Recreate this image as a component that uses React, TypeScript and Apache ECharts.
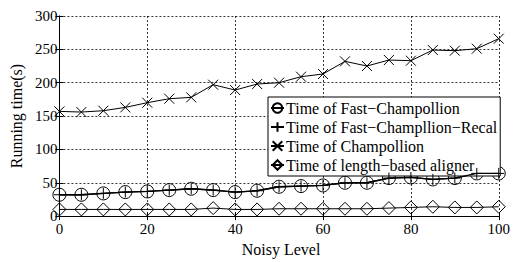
import React, { useEffect, useRef } from "react";
import * as echarts from "echarts";

const noiseLevels = [0, 5, 10, 15, 20, 25, 30, 35, 40, 45, 50, 55, 60, 65, 70, 75, 80, 85, 90, 95, 100];
const fastChampollion = [32, 32, 34, 36, 37, 39, 41, 39, 36, 38, 44, 45, 46, 50, 50, 57, 58, 55, 57, 64, 64];
const fastRecal = [32, 32, 34, 36, 37, 39, 41, 39, 36, 38, 44, 45, 46, 50, 50, 57, 58, 55, 57, 64, 64];
const champollion = [157, 156, 158, 163, 170, 176, 178, 197, 189, 198, 200, 209, 213, 232, 225, 234, 233, 249, 248, 251, 266];
const lengthBased = [10, 10, 10, 10, 10, 10, 10, 12, 10, 10, 11, 11, 11, 11, 11, 12, 13, 14, 13, 13, 14];
const seriesNames = [
  "Time of Fast\u2212Champollion",
  "Time of Fast\u2212Champllion\u2212Recal",
  "Time of Champollion",
  "Time of length\u2212based aligner",
];

const FONT = "Liberation Serif";

function pairs(ys: number[]) {
  return noiseLevels.map((x, i) => [x, ys[i]]);
}

export default function App() {
  const ref = useRef<HTMLDivElement>(null);
  useEffect(() => {
    if (!ref.current) return;
    const chart = echarts.init(ref.current, undefined, { renderer: "svg" });
    const axisLine = { show: true, lineStyle: { color: "#000", width: 1 } };
    const split = { show: true, lineStyle: { color: "#000", type: [2, 2] as any, width: 0.8 } };
    const mk = (name: string, ys: number[], symbol: string, size: number, lw: number, z: number) => ({
      name,
      type: "line",
      data: pairs(ys),
      symbol,
      symbolSize: size,
      showAllSymbol: true,
      z,
      lineStyle: { color: "#000", width: lw },
      itemStyle: { color: "rgba(0,0,0,0)", borderColor: "#000", borderWidth: 1 },
      emphasis: { disabled: true },
    });
    chart.setOption({
      animation: false,
      backgroundColor: "#fff",
      textStyle: { fontFamily: FONT },
      grid: { left: 56, right: 14, top: 16, bottom: 30, containLabel: false },
      xAxis: [
        {
          type: "value",
          min: 0,
          max: 100,
          interval: 20,
          name: "Noisy Level",
          nameLocation: "middle",
          nameGap: 19,
          nameTextStyle: { fontFamily: FONT, fontSize: 16, color: "#000", padding: [0, 0, 0, 4] },
          axisLine,
          axisTick: { show: true, inside: true, length: 4, lineStyle: { color: "#000" } },
          axisLabel: { fontFamily: FONT, fontSize: 15, color: "#000", margin: 5 },
          splitLine: split,
        },
        {
          type: "value",
          position: "top",
          min: 0,
          max: 100,
          interval: 20,
          axisLine,
          axisTick: { show: true, inside: true, length: 4, lineStyle: { color: "#000" } },
          axisLabel: { show: false },
          splitLine: { show: false },
        },
      ],
      yAxis: [
        {
          type: "value",
          min: 0,
          max: 300,
          interval: 50,
          name: "Running time(s)",
          nameLocation: "middle",
          nameGap: 31,
          nameTextStyle: { fontFamily: FONT, fontSize: 16, color: "#000" },
          axisLine,
          axisTick: { show: true, inside: true, length: 4, lineStyle: { color: "#000" } },
          axisLabel: { fontFamily: FONT, fontSize: 15, color: "#000", margin: 2 },
          splitLine: split,
        },
        {
          type: "value",
          position: "right",
          min: 0,
          max: 300,
          interval: 50,
          axisLine,
          axisTick: { show: true, inside: true, length: 4, lineStyle: { color: "#000" } },
          axisLabel: { show: false },
          splitLine: { show: false },
        },
      ],
      legend: {
        orient: "vertical",
        left: 268,
        top: 97,
        padding: [3, 3, 3, 2],
        itemWidth: 13,
        itemHeight: 12,
        itemGap: 3,
        backgroundColor: "#fff",
        borderColor: "#000",
        borderWidth: 1,
        borderRadius: 0,
        textStyle: { fontFamily: FONT, fontSize: 16, color: "#000", padding: [0, 0, 0, -3] },
        data: seriesNames,
      },
      series: [
        mk(seriesNames[0], fastChampollion, "circle", 13, 1.3, 3),
        mk(seriesNames[1], fastRecal, "path://M0,-1L0,1M-1,0L1,0", 11, 1.3, 4),
        mk(seriesNames[2], champollion, "path://M-1,-1L1,1M1,-1L-1,1", 10, 1, 5),
        mk(seriesNames[3], lengthBased, "diamond", 13, 1, 6),
      ],
    });
    return () => chart.dispose();
  }, []);
  return <div ref={ref} style={{ width: 513, height: 262, position: "absolute", left: 0, top: 0 }} />;
}
